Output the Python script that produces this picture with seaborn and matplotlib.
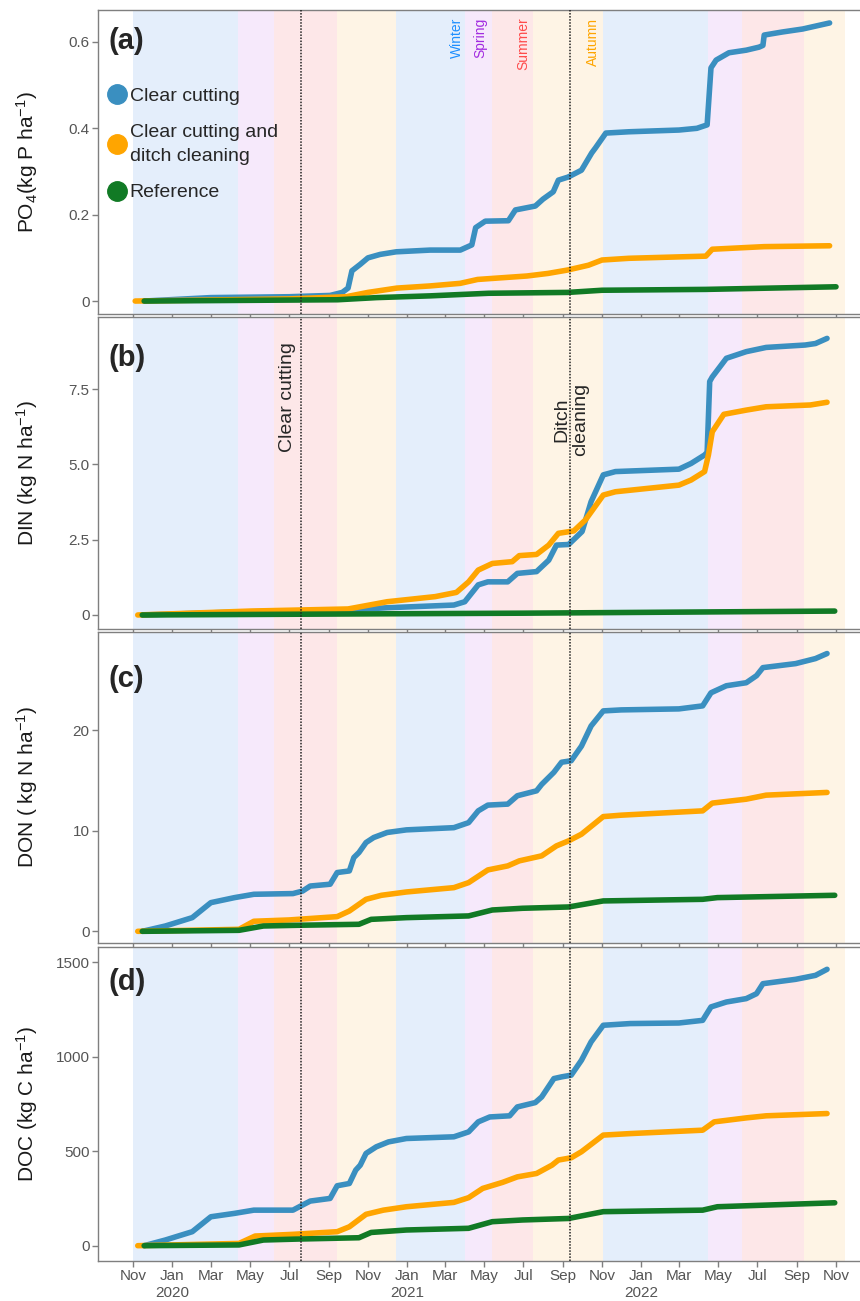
import matplotlib
matplotlib.use("Agg")
import matplotlib.pyplot as plt
import matplotlib.transforms as mtransforms
from matplotlib.lines import Line2D
import pandas as pd
import seaborn as sns


TREATMENTS = ["Clear cutting", "Clear cutting and ditch cleaning", "Reference"]
COLORS = ["#3A8FC0", "#FFA500", "#117A25"]

SEASON_STARTS = ["2019-11-01", "2020-04-13", "2020-06-08", "2020-09-14",
                 "2020-12-15", "2021-04-02", "2021-05-14", "2021-07-16",
                 "2021-11-03", "2022-04-15", "2022-06-08", "2022-09-12"]
SEASON_ENDS = SEASON_STARTS[1:] + ["2022-11-15"]
SEASON_NAMES = ["Winter", "Spring", "Summer", "Autumn"] * 3
SEASON_FILL = {"Winter": "#E4EEFB", "Spring": "#F6E9FB",
               "Summer": "#FDE7E8", "Autumn": "#FEF4E5"}
SEASON_TEXT = {"Winter": "#1E8FFF", "Spring": "#A22BE0",
               "Summer": "#FF4B4B", "Autumn": "#FFA500"}
SEASON_LABEL_DATES = ["2021-03-20", "2021-04-25", "2021-07-01", "2021-10-18"]

CLEAR_CUT_DATE = "2020-07-20"
DITCH_DATE = "2021-09-12"

TICK_DATES = pd.date_range("2019-11-01", "2022-11-01", freq="2MS")
TICK_LABELS = ["Nov", "Jan\n2020", "Mar", "May", "Jul", "Sep",
               "Nov", "Jan\n2021", "Mar", "May", "Jul", "Sep",
               "Nov", "Jan\n2022", "Mar", "May", "Jul", "Sep", "Nov"]

# ---- PO4 ----
PO4_CC_DATES = ["2019-11-18", "2020-03-01", "2020-07-01", "2020-09-03", "2020-09-22",
                "2020-10-01", "2020-10-07", "2020-10-20", "2020-11-01", "2020-11-20",
                "2020-12-15", "2021-02-06", "2021-03-25", "2021-04-12", "2021-04-18",
                "2021-05-03", "2021-06-08", "2021-06-19", "2021-07-20", "2021-08-01",
                "2021-08-17", "2021-08-25", "2021-09-09", "2021-09-30", "2021-10-16",
                "2021-10-22", "2021-11-07", "2021-12-13", "2022-03-01", "2022-03-29",
                "2022-04-14", "2022-04-20", "2022-04-28", "2022-05-18", "2022-06-14",
                "2022-07-04", "2022-07-10", "2022-07-12", "2022-08-09", "2022-09-10",
                "2022-10-22"]
PO4_CC = [0, 0.008, 0.010, 0.013, 0.02, 0.03, 0.07, 0.085, 0.10, 0.108,
          0.114, 0.118, 0.118, 0.13, 0.17, 0.185, 0.186, 0.211, 0.22, 0.236,
          0.253, 0.28, 0.287, 0.303, 0.343, 0.355, 0.389, 0.392, 0.396, 0.40,
          0.408, 0.54, 0.558, 0.575, 0.581, 0.588, 0.592, 0.616, 0.623, 0.63,
          0.644]
PO4_CCD_DATES = ["2019-11-04", "2020-07-01", "2020-09-28", "2020-11-01", "2020-12-16",
                 "2021-02-06", "2021-03-25", "2021-04-21", "2021-07-07", "2021-08-09",
                 "2021-09-09", "2021-10-11", "2021-11-01", "2021-12-13", "2022-04-12",
                 "2022-04-22", "2022-07-12", "2022-10-22"]
PO4_CCD = [0, 0.005, 0.01, 0.02, 0.03, 0.035, 0.041, 0.05, 0.058, 0.064,
           0.072, 0.083, 0.095, 0.099, 0.104, 0.12, 0.126, 0.128]
PO4_REF_DATES = ["2019-11-18", "2020-09-15", "2020-11-15", "2021-02-06", "2021-05-08",
                 "2021-09-09", "2021-11-01", "2022-04-12", "2022-11-01"]
PO4_REF = [0, 0.003, 0.008, 0.012, 0.018, 0.02, 0.025, 0.027, 0.033]

# ---- DIN ----
DIN_CC_DATES = ["2019-11-15", "2020-04-14", "2020-10-01", "2020-12-01", "2021-03-15",
                "2021-04-01", "2021-04-22", "2021-05-07", "2021-06-07", "2021-06-22",
                "2021-07-22", "2021-08-10", "2021-08-22", "2021-09-10", "2021-10-01",
                "2021-10-15", "2021-11-03", "2021-11-22", "2022-03-01", "2022-03-20",
                "2022-04-10", "2022-04-14", "2022-04-18", "2022-04-22", "2022-05-14",
                "2022-06-14", "2022-07-15", "2022-09-14", "2022-09-30", "2022-10-18"]
DIN_CC = [0, 0.1, 0.17, 0.24, 0.33, 0.44, 1.0, 1.1, 1.1, 1.38,
          1.44, 1.82, 2.32, 2.34, 2.77, 3.76, 4.65, 4.76, 4.84, 5.03,
          5.31, 5.4, 7.75, 7.9, 8.52, 8.74, 8.88, 8.96, 9.01, 9.18]
DIN_CCD_DATES = ["2019-11-08", "2020-05-01", "2020-10-01", "2020-12-01", "2021-02-14",
                 "2021-03-19", "2021-04-07", "2021-04-22", "2021-05-14", "2021-06-14",
                 "2021-06-25", "2021-07-22", "2021-08-10", "2021-08-25", "2021-09-18",
                 "2021-10-06", "2021-11-03", "2021-11-22", "2022-03-01", "2022-03-20",
                 "2022-04-10", "2022-04-16", "2022-04-22", "2022-05-10", "2022-06-14",
                 "2022-07-15", "2022-09-22", "2022-10-18"]
DIN_CCD = [0, 0.13, 0.2, 0.44, 0.61, 0.75, 1.1, 1.49, 1.71, 1.77,
           1.97, 2.01, 2.32, 2.71, 2.79, 3.15, 3.98, 4.09, 4.31, 4.48,
           4.76, 5.31, 6.08, 6.66, 6.8, 6.91, 6.97, 7.06]
DIN_REF_DATES = ["2019-11-15", "2020-12-01", "2021-07-01", "2022-10-30"]
DIN_REF = [0, 0.04, 0.06, 0.13]

# ---- DON ----
DON_CC_DATES = ["2019-11-15", "2019-12-21", "2020-02-01", "2020-03-01", "2020-04-07",
                "2020-05-07", "2020-07-07", "2020-07-22", "2020-08-03", "2020-09-03",
                "2020-09-14", "2020-10-03", "2020-10-10", "2020-10-18", "2020-10-29",
                "2020-11-10", "2020-12-01", "2020-12-31", "2021-03-15", "2021-04-07",
                "2021-04-22", "2021-05-07", "2021-06-07", "2021-06-22", "2021-07-22",
                "2021-07-30", "2021-08-18", "2021-08-30", "2021-09-14", "2021-09-30",
                "2021-10-15", "2021-11-03", "2021-12-01", "2022-03-01", "2022-04-07",
                "2022-04-20", "2022-05-14", "2022-06-14", "2022-06-30", "2022-07-10",
                "2022-08-30", "2022-09-30", "2022-10-18"]
DON_CC = [0, 0.53, 1.36, 2.85, 3.35, 3.68, 3.75, 4.0, 4.5, 4.68,
          5.84, 6.0, 7.33, 7.83, 8.82, 9.32, 9.82, 10.08, 10.3, 10.8,
          11.97, 12.54, 12.64, 13.47, 13.96, 14.6, 15.8, 16.8, 16.95, 18.4,
          20.4, 21.9, 22.0, 22.1, 22.4, 23.7, 24.4, 24.7, 25.4, 26.2,
          26.6, 27.1, 27.6]
DON_CCD_DATES = ["2019-11-08", "2020-04-14", "2020-05-07", "2020-07-01", "2020-09-14",
                 "2020-10-03", "2020-10-29", "2020-11-22", "2020-12-31", "2021-03-15",
                 "2021-04-07", "2021-05-07", "2021-06-07", "2021-06-25", "2021-07-30",
                 "2021-08-22", "2021-09-10", "2021-09-30", "2021-11-03", "2021-12-01",
                 "2022-04-07", "2022-04-22", "2022-06-14", "2022-07-15", "2022-10-18"]
DON_CCD = [0, 0.2, 1.0, 1.13, 1.46, 2.02, 3.18, 3.58, 3.91, 4.34,
           4.84, 6.1, 6.5, 7.0, 7.5, 8.49, 8.99, 9.65, 11.4, 11.54,
           11.97, 12.74, 13.13, 13.53, 13.8]
DON_REF_DATES = ["2019-11-15", "2020-04-14", "2020-05-22", "2020-07-14", "2020-10-18",
                 "2020-11-06", "2020-12-31", "2021-04-07", "2021-05-14", "2021-06-30",
                 "2021-09-10", "2021-11-03", "2022-04-07", "2022-04-30", "2022-10-30"]
DON_REF = [0, 0.1, 0.53, 0.6, 0.7, 1.19, 1.36, 1.53, 2.12, 2.29,
           2.42, 3.02, 3.18, 3.35, 3.58]

# ---- DOC ----
DOC_CC_DATES = ["2019-11-18", "2019-12-21", "2020-02-01", "2020-03-01", "2020-04-07",
                "2020-05-07", "2020-07-07", "2020-07-22", "2020-08-03", "2020-09-03",
                "2020-09-14", "2020-10-03", "2020-10-13", "2020-10-20", "2020-10-29",
                "2020-11-14", "2020-12-03", "2020-12-31", "2021-03-15", "2021-04-07",
                "2021-04-22", "2021-05-10", "2021-06-10", "2021-06-22", "2021-07-20",
                "2021-07-30", "2021-08-18", "2021-08-30", "2021-09-14", "2021-09-30",
                "2021-10-15", "2021-11-03", "2021-12-15", "2022-03-01", "2022-04-07",
                "2022-04-20", "2022-05-14", "2022-06-14", "2022-06-30", "2022-07-10",
                "2022-08-30", "2022-09-30", "2022-10-18"]
DOC_CC = [0, 30, 74, 153, 171, 188, 188, 215, 236, 250,
          317, 329, 400, 426, 488, 523, 549, 567, 576, 602,
          655, 681, 687, 734, 757, 787, 884, 893, 902, 981,
          1078, 1166, 1175, 1178, 1192, 1263, 1289, 1307, 1333, 1386,
          1409, 1430, 1462]
DOC_CCD_DATES = ["2019-11-08", "2020-04-14", "2020-05-09", "2020-07-07", "2020-09-14",
                 "2020-10-03", "2020-10-29", "2020-11-25", "2020-12-31", "2021-03-15",
                 "2021-04-07", "2021-04-29", "2021-05-30", "2021-06-22", "2021-07-22",
                 "2021-08-15", "2021-08-25", "2021-09-14", "2021-09-30", "2021-11-03",
                 "2021-12-15", "2022-04-07", "2022-04-25", "2022-06-14", "2022-07-15",
                 "2022-10-18"]
DOC_CCD = [0, 12, 51, 60, 74, 100, 166, 188, 206, 229,
           254, 303, 335, 364, 382, 426, 453, 465, 497, 585,
           593, 611, 655, 676, 687, 699]
DOC_REF_DATES = ["2019-11-18", "2020-04-14", "2020-05-22", "2020-07-14", "2020-10-18",
                 "2020-11-06", "2020-12-31", "2021-04-07", "2021-05-14", "2021-06-30",
                 "2021-09-10", "2021-11-03", "2022-04-07", "2022-04-30", "2022-10-30"]
DOC_REF = [0, 4, 30, 35, 42, 70, 83, 92, 127, 136,
           144, 180, 188, 206, 227]


def long_frame(pairs):
    parts = []
    for name, (dates, vals) in zip(TREATMENTS, pairs):
        parts.append(pd.DataFrame({"date": pd.to_datetime(dates), "value": vals,
                                   "treatment": name}))
    return pd.concat(parts, ignore_index=True)


def main() -> None:
    sns.set_theme(style="white")
    plt.rcParams["font.family"] = ["Liberation Sans", "DejaVu Sans"]
    plt.rcParams["mathtext.fontset"] = "custom"
    plt.rcParams["mathtext.rm"] = "Liberation Sans"
    plt.rcParams["mathtext.it"] = "Liberation Sans:italic"
    plt.rcParams["mathtext.default"] = "regular"

    panels = [
        dict(tag="(a)", ylabel="PO$_4$(kg P ha$^{-1}$)",
             data=long_frame([(PO4_CC_DATES, PO4_CC), (PO4_CCD_DATES, PO4_CCD),
                              (PO4_REF_DATES, PO4_REF)]),
             ylim=(-0.030, 0.674), yticks=[0, 0.2, 0.4, 0.6],
             yticklabels=["0", "0.2", "0.4", "0.6"], px=(10, 314), tag_off=17),
        dict(tag="(b)", ylabel="DIN (kg N ha$^{-1}$)",
             data=long_frame([(DIN_CC_DATES, DIN_CC), (DIN_CCD_DATES, DIN_CCD),
                              (DIN_REF_DATES, DIN_REF)]),
             ylim=(-0.465, 9.89), yticks=[0, 2.5, 5.0, 7.5],
             yticklabels=["0", "2.5", "5.0", "7.5"], px=(317, 629), tag_off=27),
        dict(tag="(c)", ylabel="DON ( kg N ha$^{-1}$)",
             data=long_frame([(DON_CC_DATES, DON_CC), (DON_CCD_DATES, DON_CCD),
                              (DON_REF_DATES, DON_REF)]),
             ylim=(-1.16, 29.74), yticks=[0, 10, 20],
             yticklabels=["0", "10", "20"], px=(632, 943), tag_off=33),
        dict(tag="(d)", ylabel="DOC (kg C ha$^{-1}$)",
             data=long_frame([(DOC_CC_DATES, DOC_CC), (DOC_CCD_DATES, DOC_CCD),
                              (DOC_REF_DATES, DOC_REF)]),
             ylim=(-81, 1580), yticks=[0, 500, 1000, 1500],
             yticklabels=["0", "500", "1000", "1500"], px=(947, 1261), tag_off=21),
    ]

    W, H = 860, 1301
    fig = plt.figure(figsize=(W / 100, H / 100), dpi=100)
    palette = dict(zip(TREATMENTS, COLORS))
    xlim = (pd.Timestamp("2019-09-07"), pd.Timestamp("2022-12-24"))
    grey = "#7F7F7F"

    axes = []
    for i, p in enumerate(panels):
        top, bot = p["px"]
        ax = fig.add_axes([98 / W, (H - bot) / H, 772 / W, (bot - top) / H])
        axes.append(ax)

        for s, e, n in zip(SEASON_STARTS, SEASON_ENDS, SEASON_NAMES):
            ax.axvspan(pd.Timestamp(s), pd.Timestamp(e), color=SEASON_FILL[n],
                       lw=0, zorder=0)
        for d in (CLEAR_CUT_DATE, DITCH_DATE):
            ax.axvline(pd.Timestamp(d), color="#222222", ls=(0, (1, 1)), lw=1.1,
                       zorder=3)

        sns.lineplot(data=p["data"], x="date", y="value", hue="treatment",
                     hue_order=TREATMENTS, palette=palette, estimator=None,
                     linewidth=4.0, legend=False, ax=ax, zorder=2,
                     solid_capstyle="round")

        ax.set_xlim(*xlim)
        ax.set_ylim(*p["ylim"])
        ax.set_yticks(p["yticks"])
        ax.set_yticklabels(p["yticklabels"])
        ax.set_xticks(TICK_DATES)
        if i == len(panels) - 1:
            ax.set_xticklabels(TICK_LABELS)
        else:
            ax.set_xticklabels([])
        ax.set_xlabel("")
        ax.set_ylabel(p["ylabel"], fontsize=15, color="#1A1A1A")
        ax.yaxis.set_label_coords(-0.075, 0.5)
        ax.tick_params(axis="both", direction="out", length=4, width=1,
                       color=grey, labelcolor="#555555", labelsize=11, pad=2,
                       bottom=True, left=True)
        for sp in ax.spines.values():
            sp.set_color(grey)
            sp.set_linewidth(1.0)
        ax.grid(False)
        h = bot - top
        ax.text(10 / 772, 1 - p["tag_off"] / h, p["tag"], transform=ax.transAxes,
                fontsize=21, fontweight="bold", va="top", ha="left", zorder=5)

    # season names and legend in panel (a)
    ax = axes[0]
    trans = mtransforms.blended_transform_factory(ax.transData, ax.transAxes)
    for d, n in zip(SEASON_LABEL_DATES, SEASON_NAMES[:4]):
        ax.text(pd.Timestamp(d), 0.975, n, transform=trans, rotation=90,
                va="top", ha="center", color=SEASON_TEXT[n], fontsize=10)
    handles = [Line2D([], [], ls="", marker="o", markersize=14, color=c)
               for c in COLORS]
    leg = ax.legend(handles, ["Clear cutting", "Clear cutting and\nditch cleaning",
                              "Reference"],
                    loc="upper left", bbox_to_anchor=(0.012, 0.745), frameon=False,
                    fontsize=14, handlelength=1.0, handletextpad=0.15,
                    labelspacing=0.95, borderpad=0, borderaxespad=0)
    for t in leg.get_texts():
        t.set_linespacing(1.6)

    # event annotations in panel (b)
    ax = axes[1]
    trans = mtransforms.blended_transform_factory(ax.transData, ax.transAxes)
    ax.text(pd.Timestamp("2020-06-28"), 0.92, "Clear cutting", transform=trans,
            rotation=90, va="top", ha="center", fontsize=14, zorder=5)
    ax.text(pd.Timestamp("2021-09-14"), 0.555, "Ditch\ncleaning", transform=trans,
            rotation=90, va="bottom", ha="center", fontsize=14, zorder=5,
            linespacing=1.1)

    fig.savefig("out.png", dpi=100)
    plt.close(fig)


if __name__ == "__main__":
    main()
